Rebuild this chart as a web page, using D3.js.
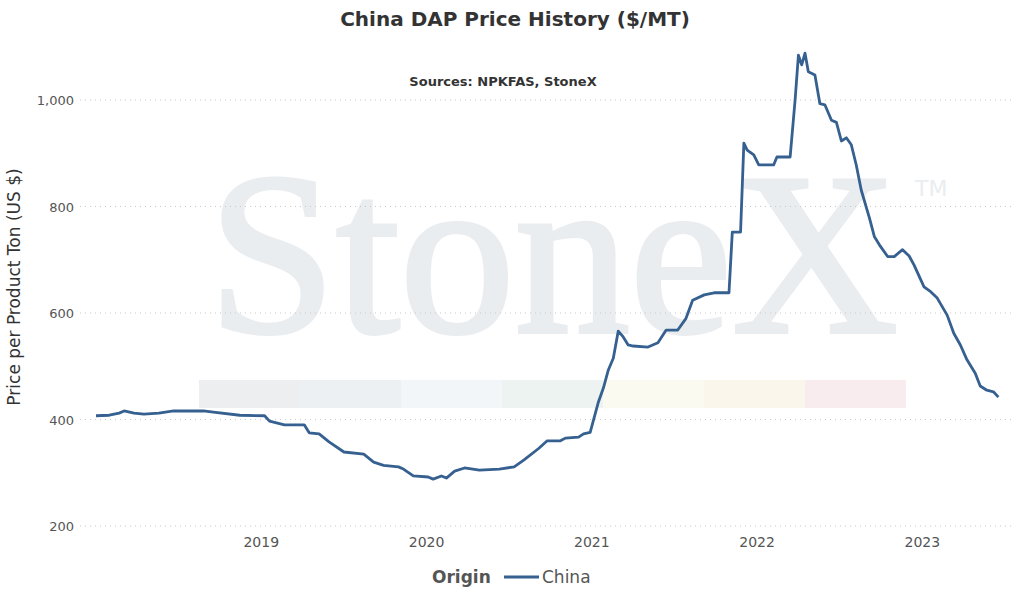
<!DOCTYPE html>
<html>
<head>
<meta charset="utf-8">
<script src="https://cdn.jsdelivr.net/npm/d3@7"></script>
<style>
  body { margin: 0; background: #fff; font-family: "DejaVu Sans", sans-serif; }
</style>
</head>
<body>
<svg id="chart" width="1031" height="595"></svg>
<script>
'use strict';

// decimal year and price ($/MT)
var years = [2018.0, 2018.08, 2018.14, 2018.17, 2018.23, 2018.29, 2018.38, 2018.47, 2018.65, 2018.71,
  2018.87, 2019.02, 2019.05, 2019.14, 2019.26, 2019.29, 2019.35, 2019.41, 2019.5, 2019.62,
  2019.68, 2019.74, 2019.83, 2019.86, 2019.92, 2020.01, 2020.04, 2020.09, 2020.12, 2020.17,
  2020.23, 2020.32, 2020.44, 2020.53, 2020.59, 2020.68, 2020.73, 2020.81, 2020.84, 2020.92,
  2020.95, 2020.99, 2021.04, 2021.07, 2021.1, 2021.13, 2021.16, 2021.19, 2021.22, 2021.25,
  2021.34, 2021.4, 2021.45, 2021.52, 2021.57, 2021.61, 2021.68, 2021.74, 2021.83, 2021.85,
  2021.9, 2021.92, 2021.94, 2021.98, 2022.01, 2022.1, 2022.12, 2022.2, 2022.23, 2022.25,
  2022.27, 2022.29, 2022.31, 2022.35, 2022.38, 2022.41, 2022.45, 2022.48, 2022.51, 2022.54,
  2022.57, 2022.6, 2022.63, 2022.68, 2022.71, 2022.74, 2022.79, 2022.83, 2022.88, 2022.92,
  2022.95, 2023.01, 2023.05, 2023.09, 2023.15, 2023.19, 2023.23, 2023.27, 2023.32, 2023.35,
  2023.39, 2023.43, 2023.46];
var prices = [407, 408, 412, 416, 412, 410, 412, 416, 416, 414,
  408, 407, 397, 390, 390, 375, 373, 358, 339, 335,
  320, 314, 311, 307, 294, 292, 288, 294, 290, 303,
  309, 305, 307, 311, 324, 346, 360, 360, 365, 367,
  373, 376, 433, 459, 493, 515, 566, 555, 540, 538,
  536, 544, 568, 568, 590, 624, 634, 638, 638, 752,
  752, 919, 906, 897, 878, 878, 893, 893, 1000, 1084,
  1066, 1088, 1053, 1047, 993, 991, 962, 958, 923, 929,
  916, 878, 831, 778, 743, 728, 706, 706, 719, 707,
  690, 649, 640, 628, 596, 562, 540, 512, 487, 463,
  455, 452, 442];

var yTicks = [200, 400, 600, 800, 1000];
var xTicks = [2019, 2020, 2021, 2022, 2023];
var bandColors = ['#eceef0', '#edf0f2', '#f2f6f9', '#edf3f0', '#fbfaf1', '#fbf6ec', '#f8ecee'];

var svg = d3.select('#chart');
var plotLeft = 80, plotRight = 1015, plotTop = 100, plotBottom = 526;

var x = d3.scaleLinear().domain([2018.0, 2023.5]).range([96, 1005]);
var y = d3.scaleLinear().domain([200, 1000]).range([plotBottom, plotTop]);

// watermark
var band = d3.scaleBand().domain(d3.range(bandColors.length)).range([199, 906]);
svg.selectAll('rect.band').data(bandColors).enter().append('rect')
  .attr('x', function (d, i) { return band(i); })
  .attr('y', 380).attr('width', band.bandwidth()).attr('height', 28)
  .attr('fill', function (d) { return d; });
svg.append('text').attr('x', 553).attr('y', 332).attr('text-anchor', 'middle')
  .style('font-family', '"Liberation Serif", "DejaVu Serif", serif')
  .style('font-size', '230px').attr('fill', '#eaedf0')
  .attr('stroke', '#eaedf0').attr('stroke-width', 4).text('StoneX');
svg.append('text').attr('x', 915).attr('y', 196)
  .style('font-size', '22px').attr('fill', '#eaedf0').text('TM');

// grid
svg.selectAll('line.grid').data(yTicks).enter().append('line')
  .attr('x1', plotLeft).attr('x2', plotRight)
  .attr('y1', function (d) { return y(d); }).attr('y2', function (d) { return y(d); })
  .attr('stroke', '#c8c8c8').attr('stroke-dasharray', '1,4');

svg.selectAll('text.ytick').data(yTicks).enter().append('text')
  .attr('x', 74).attr('y', function (d) { return y(d) + 5; })
  .attr('text-anchor', 'end').style('font-size', '13px').attr('fill', '#555')
  .text(function (d) { return d3.format(',')(d); });

svg.selectAll('text.xtick').data(xTicks).enter().append('text')
  .attr('x', function (d) { return x(d); }).attr('y', 547)
  .attr('text-anchor', 'middle').style('font-size', '14px').attr('fill', '#555')
  .text(function (d) { return d; });

// line
var line = d3.line()
  .x(function (d, i) { return x(years[i]); })
  .y(function (d) { return y(d); });
svg.append('path').datum(prices).attr('d', line)
  .attr('fill', 'none').attr('stroke', '#35608f').attr('stroke-width', 2.8)
  .attr('stroke-linejoin', 'round');

// titles
svg.append('text').attr('x', 515).attr('y', 26).attr('text-anchor', 'middle')
  .style('font-size', '20px').style('font-weight', 'bold').attr('fill', '#333')
  .text('China DAP Price History ($/MT)');
svg.append('text').attr('x', 503).attr('y', 86).attr('text-anchor', 'middle')
  .style('font-size', '13px').style('font-weight', 'bold').attr('fill', '#333')
  .text('Sources: NPKFAS, StoneX');
svg.append('text').attr('transform', 'translate(20,287) rotate(-90)')
  .attr('text-anchor', 'middle').style('font-size', '17px').attr('fill', '#333')
  .text('Price per Product Ton (US $)');

// legend
svg.append('text').attr('x', 432).attr('y', 583)
  .style('font-size', '17px').style('font-weight', 'bold').attr('fill', '#555').text('Origin');
svg.append('line').attr('x1', 504).attr('x2', 539).attr('y1', 577).attr('y2', 577)
  .attr('stroke', '#35608f').attr('stroke-width', 2.8);
svg.append('text').attr('x', 542).attr('y', 583)
  .style('font-size', '17px').attr('fill', '#555').text('China');
</script>
</body>
</html>
